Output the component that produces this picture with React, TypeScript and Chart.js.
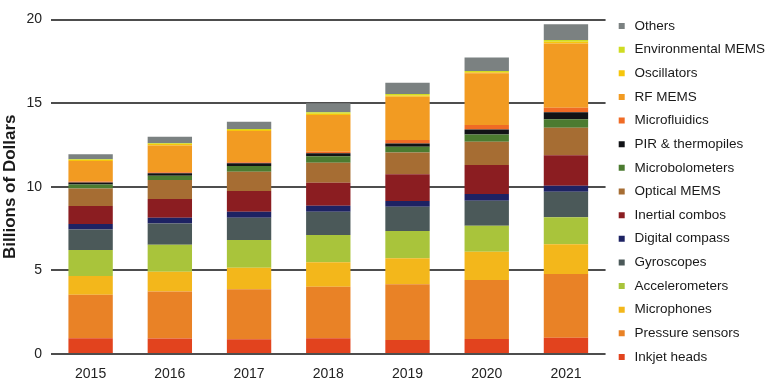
import React, { useEffect, useRef } from "react";
import { Chart, registerables } from "chart.js";

Chart.register(...registerables);

const years = ["2015", "2016", "2017", "2018", "2019", "2020", "2021"];
const yTicks = [0, 5, 10, 15, 20];

const inkjetHeads = [0.94, 0.92, 0.88, 0.94, 0.84, 0.9, 0.97];
const pressureSensors = [2.61, 2.81, 2.99, 3.08, 3.33, 3.52, 3.81];
const microphones = [1.11, 1.19, 1.29, 1.46, 1.55, 1.69, 1.78];
const accelerometers = [1.56, 1.61, 1.65, 1.63, 1.63, 1.56, 1.61];
const gyroscopes = [1.23, 1.28, 1.34, 1.4, 1.46, 1.49, 1.53];
const digitalCompass = [0.32, 0.34, 0.36, 0.35, 0.34, 0.4, 0.36];
const inertialCombos = [1.08, 1.12, 1.23, 1.38, 1.59, 1.74, 1.83];
const opticalMems = [1.05, 1.13, 1.16, 1.19, 1.31, 1.39, 1.64];
const microbolometers = [0.24, 0.26, 0.34, 0.4, 0.34, 0.44, 0.5];
const pirThermopiles = [0.12, 0.14, 0.16, 0.17, 0.2, 0.3, 0.42];
const microfluidics = [0.06, 0.06, 0.06, 0.09, 0.2, 0.26, 0.27];
const rfMems = [1.22, 1.61, 1.87, 2.2, 2.59, 3.09, 3.85];
const oscillators = [0.06, 0.08, 0.07, 0.08, 0.08, 0.07, 0.1];
const environmentalMems = [0.04, 0.05, 0.05, 0.08, 0.08, 0.07, 0.1];
const others = [0.31, 0.39, 0.44, 0.55, 0.68, 0.81, 0.95];

const seriesNames = [
  "Inkjet heads",
  "Pressure sensors",
  "Microphones",
  "Accelerometers",
  "Gyroscopes",
  "Digital compass",
  "Inertial combos",
  "Optical MEMS",
  "Microbolometers",
  "PIR & thermopiles",
  "Microfluidics",
  "RF MEMS",
  "Oscillators",
  "Environmental MEMS",
  "Others",
];
const seriesValues = [
  inkjetHeads,
  pressureSensors,
  microphones,
  accelerometers,
  gyroscopes,
  digitalCompass,
  inertialCombos,
  opticalMems,
  microbolometers,
  pirThermopiles,
  microfluidics,
  rfMems,
  oscillators,
  environmentalMems,
  others,
];
const seriesColors = [
  "#e2431e",
  "#e98226",
  "#f3b71b",
  "#a9c43b",
  "#4b5959",
  "#1d2263",
  "#8b1d21",
  "#a66d33",
  "#4b7b30",
  "#111316",
  "#f06b25",
  "#f29b22",
  "#f6c60c",
  "#cfdc22",
  "#7b8181",
];

const FONT = "'Liberation Sans', Arial, Helvetica, sans-serif";

export default function App() {
  const canvasRef = useRef<HTMLCanvasElement | null>(null);

  useEffect(() => {
    if (!canvasRef.current) return;
    const chart = new Chart(canvasRef.current, {
      type: "bar",
      data: {
        labels: years,
        datasets: seriesNames.map((name, i) => ({
          label: name,
          data: seriesValues[i],
          backgroundColor: seriesColors[i],
          borderWidth: 0,
          barPercentage: 0.56,
          categoryPercentage: 1,
        })),
      },
      options: {
        responsive: false,
        animation: false,
        layout: { padding: { top: 0, bottom: 5, left: 0, right: 0 } },
        plugins: {
          tooltip: { enabled: false },
          title: {
            display: true,
            text: " ",
            fullSize: false,
            font: { size: 10, lineHeight: 1 },
            padding: { top: 9.5, bottom: 0 },
          },
          legend: {
            position: "right",
            align: "center",
            reverse: true,
            labels: {
              usePointStyle: true,
              pointStyle: "rect",
              boxWidth: 12,
              boxHeight: 6,
              padding: 10.14,
              color: "#1a1a1a",
              font: { family: FONT, size: 13.5 },
            },
          },
        },
        scales: {
          x: {
            stacked: true,
            grid: { display: false, drawTicks: false },
            border: { display: false },
            ticks: {
              color: "#222",
              padding: 12.2,
              font: { family: FONT, size: 14 },
            },
            afterFit: (scale: any) => {
              scale.height = 29;
            },
          },
          y: {
            stacked: true,
            min: 0,
            max: 20,
            afterBuildTicks: (scale: any) => {
              scale.ticks = yTicks.map((v) => ({ value: v }));
            },
            grid: {
              color: "#4d4d4d",
              lineWidth: 2,
              drawTicks: false,
            },
            border: { display: false },
            ticks: {
              color: "#222",
              padding: 9,
              font: { family: FONT, size: 14 },
            },
            title: {
              display: true,
              text: "Billions of Dollars",
              color: "#1a1a1a",
              font: { family: FONT, size: 17, weight: "bold" },
              padding: { top: 0, bottom: 4 },
            },
            afterFit: (scale: any) => {
              scale.width = 51;
            },
          },
        },
      },
    });
    return () => chart.destroy();
  }, []);

  return (
    <div style={{ position: "fixed", left: 0, top: 0, width: 775, height: 388, background: "#fff" }}>
      <canvas ref={canvasRef} width={775} height={388} style={{ display: "block" }} />
    </div>
  );
}
